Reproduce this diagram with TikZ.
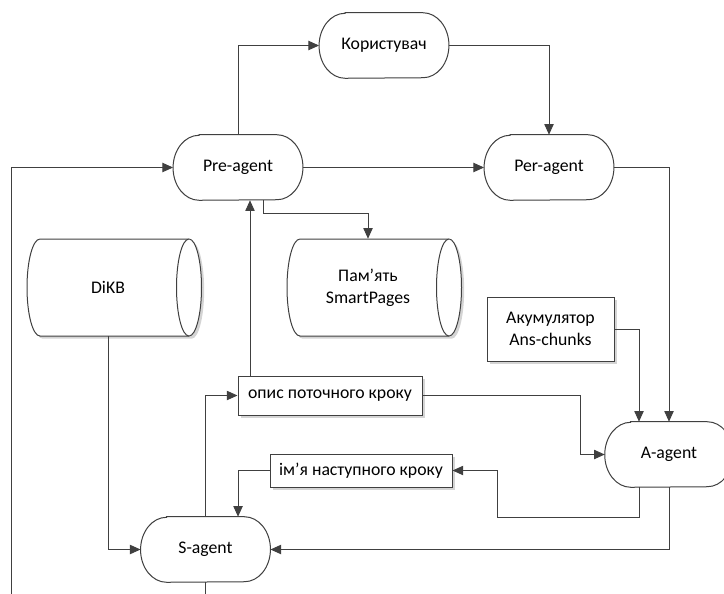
\documentclass[tikz,border=0pt]{standalone}
\usepackage{fontspec}
\setmainfont{Carlito}
\usetikzlibrary{arrows.meta,shadows}
\definecolor{ink}{HTML}{404040}
\definecolor{shadowgrey}{HTML}{D4D4D4}

% outline of a horizontal drum: left end centre x, right end centre x, centre y
\newcommand\drumoutline[3]{%
  (#1,#3-48.5) -- (#2,#3-48.5)
  arc[start angle=270, end angle=450, x radius=12.5, y radius=48.5]
  -- (#1,#3+48.5)
  arc[start angle=90, end angle=270, x radius=13, y radius=48.5] -- cycle}
\newcommand\drumrim[2]{%
  (#1,#2-48.5) arc[start angle=270, end angle=90, x radius=12.5, y radius=48.5]}

% outline of a terminator with elliptic ends around a node
\newcommand\capsule[1]{%
  ([xshift=19.5pt]#1.north west) -- ([xshift=-19.5pt]#1.north east)
  arc[start angle=90, end angle=-90, x radius=19.5pt, y radius=24.375pt]
  -- ([xshift=19.5pt]#1.south west)
  arc[start angle=270, end angle=90, x radius=19.5pt, y radius=24.375pt] -- cycle}

\begin{document}
\begin{tikzpicture}[x=0.75pt,y=-0.75pt,
  font=\fontsize{13.3}{16.5}\selectfont,
  every node/.style={inner sep=0pt, align=center},
  conn/.style={draw=ink, line width=0.75pt, -{Triangle[length=8pt,width=7pt]}},
  softshadow/.style={drop shadow={shadow xshift=2pt, shadow yshift=-2pt, fill=shadowgrey, opacity=1}},
  agent/.style={minimum width=97pt, minimum height=48.75pt},
  capshadow/.style={fill=shadowgrey, xshift=2pt, yshift=-2pt},
  capline/.style={draw=ink, line width=0.75pt, fill=white},
  box/.style={draw=ink, line width=0.75pt, fill=white, softshadow},
  store/.style={minimum width=121.5pt, minimum height=72.75pt},
  drum/.style={draw=ink, line width=0.75pt, fill=white}]
\useasboundingbox (0,0) rectangle (724,593);

% storages
\fill[shadowgrey, xshift=2pt, yshift=-2pt] \drumoutline{40}{189}{287.5};
\draw[drum] \drumoutline{40}{189}{287.5};
\draw[drum] \drumrim{189}{287.5};
\fill[shadowgrey, xshift=2pt, yshift=-2pt] \drumoutline{300}{449}{287.5};
\draw[drum] \drumoutline{300}{449}{287.5};
\draw[drum] \drumrim{449}{287.5};
\node[store] (dikb) at (108,287.5) {DiKB};
\node[store] (mem) at (368,287.5) {Пам’ять\\SmartPages};

% agents: the node fixes the frame, the outline is drawn around it
\node[agent] (user) at (384,45.5) {};
\node[agent] (pre) at (238,167.5) {};
\node[agent] (per) at (549,167.5) {};
\node[agent, minimum width=96pt] (aag) at (669,454.5) {};
\node[agent] (sag) at (205.5,549.5) {};
\foreach \n in {user,pre,per,aag,sag}{
  \path[capshadow] \capsule{\n};
  \path[capline] \capsule{\n};
}
\node (userlabel) at (user.center) {Користувач};
\node (prelabel) at (pre.center) {Pre-agent};
\node (perlabel) at (per.center) {Per-agent};
\node (aaglabel) at (aag.center) {A-agent};
\node (saglabel) at (sag.center) {S-agent};

% boxes
\node[box, minimum width=95.25pt, minimum height=48pt] (acc) at (550.5,329) {Акумулятор\\Ans-chunks};
\node[box, minimum width=138pt, minimum height=29.25pt] (opys) at (330,395.5) {опис поточного кроку};
\node[box, minimum width=136.5pt, minimum height=24.75pt] (imya) at (361,470.5) {ім’я наступного кроку};

% connectors
\draw[conn] (pre.north) |- (user.west);
\draw[conn] (user.east) -| (per.north);
\draw[conn] (pre.east) -- (per.west);
\draw[conn] (per.east) -| (aag.north);
\draw[conn] (acc.east) -| ([xshift=-22.5pt]aag.north);
\draw[conn] ([xshift=18.75pt]pre.south) -- ++(0,13) -| (mem.north);
\draw[conn] ([xshift=-60pt]opys.north) -- ([xshift=-60pt]opys.north |- pre.south);
\draw[conn] (sag.north) |- (opys.west);
\draw[conn] (opys.east) -- ++(158,0) |- (aag.west);
\draw[conn] ([xshift=-22.5pt]aag.south) -- ++(0,30) -- ++(-142,0) |- (imya.east);
\draw[conn] (imya.west) -| ([xshift=24.4pt]sag.north);
\draw[conn] (aag.south) |- (sag.east);
\draw[conn] (dikb.south) |- (sag.west);
\draw[conn] (sag.south) -- ++(0,25) -- ++(-194.5,0) |- (pre.west);
\end{tikzpicture}
\end{document}
